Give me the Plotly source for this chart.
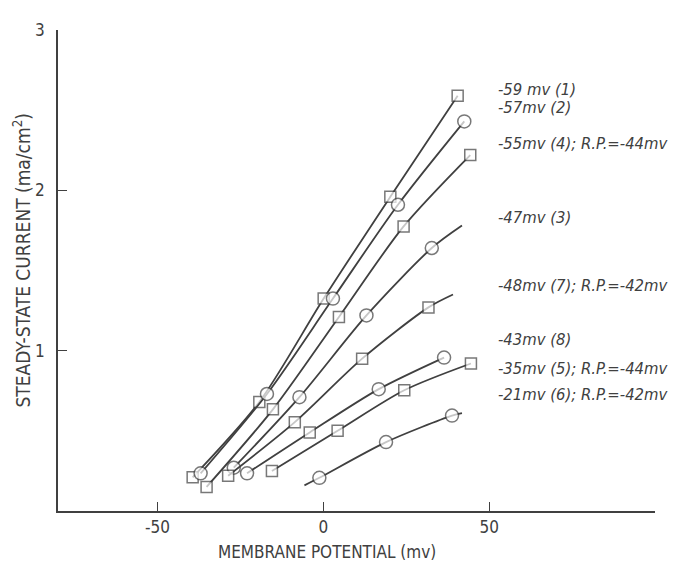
import plotly.graph_objects as go

# ---- data ----
s1_x = [-39.4, -19.3, 0.1, 20.2, 40.5]
s1_y = [0.21, 0.68, 1.325, 1.96, 2.59]
s1_sym = ["square"] * 5

s2_x = [-37.0, -17.0, 2.9, 22.5, 42.5]
s2_y = [0.235, 0.73, 1.325, 1.91, 2.43]
s2_sym = ["circle"] * 5

s3_x = [-35.2, -15.2, 4.7, 24.2, 44.3]
s3_y = [0.15, 0.634, 1.21, 1.775, 2.22]
s3_sym = ["square"] * 5

s4_x = [-27.0, -7.2, 13.0, 32.7, 41.8]
s4_y = [0.27, 0.71, 1.22, 1.64, 1.78]
s4_sym = ["circle", "circle", "circle", "circle", None]

s5_x = [-28.7, -8.6, 11.7, 31.7, 39.1]
s5_y = [0.22, 0.554, 0.95, 1.27, 1.35]
s5_sym = ["square", "square", "square", "square", None]

s6_x = [-23.0, -4.1, 16.7, 36.4]
s6_y = [0.235, 0.49, 0.76, 0.957]
s6_sym = ["circle", "square", "circle", "circle"]

s7_x = [-15.5, 4.3, 24.4, 44.5]
s7_y = [0.25, 0.50, 0.753, 0.92]
s7_sym = ["square"] * 4

s8_x = [-5.7, -1.2, 18.9, 38.8, 41.8]
s8_y = [0.16, 0.207, 0.43, 0.595, 0.61]
s8_sym = [None, "circle", "circle", "circle", None]

series = [
    (s1_x, s1_y, s1_sym),
    (s2_x, s2_y, s2_sym),
    (s3_x, s3_y, s3_sym),
    (s4_x, s4_y, s4_sym),
    (s5_x, s5_y, s5_sym),
    (s6_x, s6_y, s6_sym),
    (s7_x, s7_y, s7_sym),
    (s8_x, s8_y, s8_sym),
]

labels = [
    "-59 mv (1)",
    "-57mv (2)",
    "-55mv (4); R.P.=-44mv",
    "-47mv (3)",
    "-48mv (7); R.P.=-42mv",
    "-43mv (8)",
    "-35mv (5); R.P.=-44mv",
    "-21mv (6); R.P.=-42mv",
]
label_y = [2.63, 2.515, 2.295, 1.83, 1.405, 1.07, 0.89, 0.724]

x_ticks = [-50, 0, 50]
y_ticks = [1, 2, 3]

INK = "#404040"
FONT = "Liberation Sans Narrow, DejaVu Sans Condensed, Liberation Sans, sans-serif"

fig = go.Figure()
for xs, ys, syms in series:
    fig.add_trace(go.Scatter(
        x=xs, y=ys, mode="lines+markers",
        line=dict(color=INK, width=1.8, shape="spline", smoothing=0.8),
        marker=dict(
            symbol=[s if s else "circle" for s in syms],
            size=[(11 if s == "square" else 13) if s else 0 for s in syms],
            color="white",
            line=dict(color=INK, width=1.5),
        ),
        showlegend=False, hoverinfo="skip",
    ))

for txt, yy in zip(labels, label_y):
    fig.add_annotation(
        x=52.0, y=yy, xref="x", yref="y", text=txt, showarrow=False,
        xanchor="left", yanchor="middle",
        font=dict(family=FONT, size=16.5, color=INK, style="italic"),
    )

fig.add_annotation(
    x=-0.060, y=0.521, xref="paper", yref="paper",
    text="STEADY-STATE CURRENT (ma/cm<sup>2</sup>)", textangle=-90,
    showarrow=False, xanchor="center", yanchor="middle",
    font=dict(family=FONT, size=19, color=INK),
)
fig.add_annotation(
    x=0.45, y=-0.086, xref="paper", yref="paper",
    text="MEMBRANE POTENTIAL (mv)",
    showarrow=False, xanchor="center", yanchor="middle",
    font=dict(family=FONT, size=17, color=INK),
)

fig.update_xaxes(
    range=[-80, 100], tickvals=x_ticks, ticktext=[str(v) for v in x_ticks],
    ticks="inside", ticklen=9, tickwidth=1.3, tickcolor=INK,
    showline=True, linecolor=INK, linewidth=1.5, showgrid=False, zeroline=False,
    tickfont=dict(family=FONT, size=17, color=INK),
)
fig.update_yaxes(
    range=[0, 3], tickvals=y_ticks, ticktext=[str(v) for v in y_ticks],
    ticks="inside", ticklen=9, tickwidth=1.3, tickcolor=INK,
    showline=True, linecolor=INK, linewidth=1.5, showgrid=False, zeroline=False,
    tickfont=dict(family=FONT, size=17, color=INK),
    ticklabelstandoff=8,
)
# page body has an 8px margin: shrink the figure so the plot area sits where the reference's does
fig.update_layout(
    width=675, height=562,
    margin=dict(l=50, r=28, t=14, b=59),
    plot_bgcolor="white", paper_bgcolor="white",
)
fig.write_html("out.html")
